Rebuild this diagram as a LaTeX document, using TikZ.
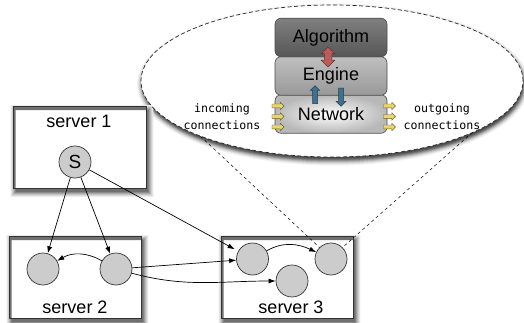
\documentclass[tikz,border=0pt]{standalone}
\usepackage{fontspec}
\setmainfont{Liberation Sans}
\newfontfamily\monofont{DejaVu Sans Mono}
\usetikzlibrary{arrows.meta,shapes.geometric,shapes.arrows,backgrounds}

\definecolor{arrowred}{HTML}{B85C5C}
\definecolor{arrowblue}{HTML}{41708F}
\definecolor{arrowyellow}{HTML}{E8D66C}

\tikzset{
  server/.style={draw=black!80, fill=white, line width=0.7pt,
    minimum width=132pt, minimum height=81pt},
  proc/.style={circle, draw=black!80, fill=black!20, line width=0.7pt,
    minimum size=32pt, inner sep=0pt},
  layer/.style={draw=black!70, rounded corners=6pt, line width=0.6pt, text=black,
    minimum width=112pt, minimum height=38.5pt, inner sep=0pt},
  fatarrow/.style={single arrow, draw=#1!55!black, fill=#1, line width=0.5pt,
    inner sep=2.25pt, minimum height=18pt, single arrow head extend=2.25pt},
  smallarrow/.style={single arrow, draw=arrowyellow!45!black, fill=arrowyellow,
    line width=0.4pt, inner sep=1.75pt, minimum height=12pt,
    single arrow head extend=1.75pt},
  big/.style={font=\fontsize{18}{20}\selectfont},
  conn/.style={font=\monofont\fontsize{11.6}{17}\selectfont, align=center}
}

\begin{document}
\begin{tikzpicture}[x=1pt, y=1pt, >={Latex[length=7pt,width=5pt]}, line width=0.7pt]
\useasboundingbox (0,0) rectangle (524,-323);

% servers
\node[server] (srv1) at (80,-147.5) {};
\node[server, minimum width=131pt] (srv2) at (75.5,-277.5) {};
\node[server, minimum width=131pt] (srv3) at (287.5,-277.5) {};

% soft shadows round the server boxes (outside them only)
\foreach \b/\c in {5/8,4/15,3/24,2/34,1/45,0/56} {
  \fill[black!\c, even odd rule]
    ([shift={(2-\b,-3.5-\b)}]srv1.south west) rectangle ([shift={(2+\b,-3.5+\b)}]srv1.north east)
    (srv1.south west) rectangle (srv1.north east);
  \fill[black!\c, even odd rule]
    ([shift={(2-\b,-3.5-\b)}]srv2.south west) rectangle ([shift={(2+\b,-3.5+\b)}]srv2.north east)
    (srv2.south west) rectangle (srv2.north east);
  \fill[black!\c, even odd rule]
    ([shift={(2-\b,-3.5-\b)}]srv3.south west) rectangle ([shift={(2+\b,-3.5+\b)}]srv3.north east)
    (srv3.south west) rectangle (srv3.north east);
}
\draw[black!80, line width=0.7pt] (srv1.south west) rectangle (srv1.north east);
\draw[black!80, line width=0.7pt] (srv2.south west) rectangle (srv2.north east);
\draw[black!80, line width=0.7pt] (srv3.south west) rectangle (srv3.north east);

\node[big] (lab1) at (79,-121) {server 1};
\node[big] (lab2) at (75,-307) {server 2};
\node[big] (lab3) at (291,-307) {server 3};

% processes
\node[proc, font=\fontsize{19}{20}\selectfont] (S) at (75,-162) {S};
\node[proc] (c1) at (43,-269) {};
\node[proc] (c2) at (116,-269) {};
\node[proc] (d1) at (252.5,-259) {};
\node[proc] (d2) at (292,-281) {};
\node[proc] (d3) at (331,-259) {};

% messages
\draw[->] (S) -- (c1);
\draw[->] (S) -- (c2);
\draw[->, shorten >=4pt] (S) -- (d1);
\draw[->] (c2) to[out=150, in=30] (c1);
\draw[->] (c2) -- (d1);
\draw[->] (c2) to[out=-15, in=180] (d2);
\draw[->] (d1) to[out=30, in=155] (d3);

% zoom lines
\coordinate (zl) at (191.5,-127.9);
\coordinate (zr) at (486,-120.4);
\draw[dashed, line width=0.5pt] (zl) -- (d3.north west);
\draw[dashed, line width=0.5pt] (zr) -- (d3.north east);

\node[ellipse, draw=black!85, dash pattern=on 4pt off 2.5pt, fill=white, line width=0.7pt,
  minimum width=382pt, minimum height=152pt] (zoom) at (332,-81) {};

% shadow of the zoom
\begin{scope}[on background layer]
  \foreach \b/\c in {5/5,4/10,3/18,2/28,1/40,0/52,-1/62,-2/70}
    \fill[black!\c] ([shift={(1,-3.5)}]zoom.center) ellipse [x radius=191+\b, y radius=76+\b];
\end{scope}

% layers
\node[layer, big, inner color=white, outer color=black!28] (net) at (331,-114) {Network};
\node[layer, big, top color=black!25, bottom color=black!40] (eng) at (331,-76) {Engine};
\node[layer, big, top color=black!50, bottom color=black!66] (alg) at (331,-37.5) {Algorithm};

\node[double arrow, fill=arrowred, draw=arrowred!55!black, line width=0.5pt,
  rotate=90, inner sep=3.5pt, minimum height=20pt,
  double arrow head extend=3pt] (ae) at (328,-57) {};
\node[fatarrow=arrowblue, rotate=90] (up) at (315,-96) {};
\node[fatarrow=arrowblue, rotate=-90] (down) at (341,-96) {};

\foreach \y [count=\i] in {106,116.5,127} {
  \node[smallarrow] (in\i) at (277,-\y) {};
  \node[smallarrow] (out\i) at (388.5,-\y) {};
}

\node[conn] (inc) at (222,-117) {incoming\\connections};
\node[conn] (outg) at (442,-117) {outgoing\\connections};
\end{tikzpicture}
\end{document}
